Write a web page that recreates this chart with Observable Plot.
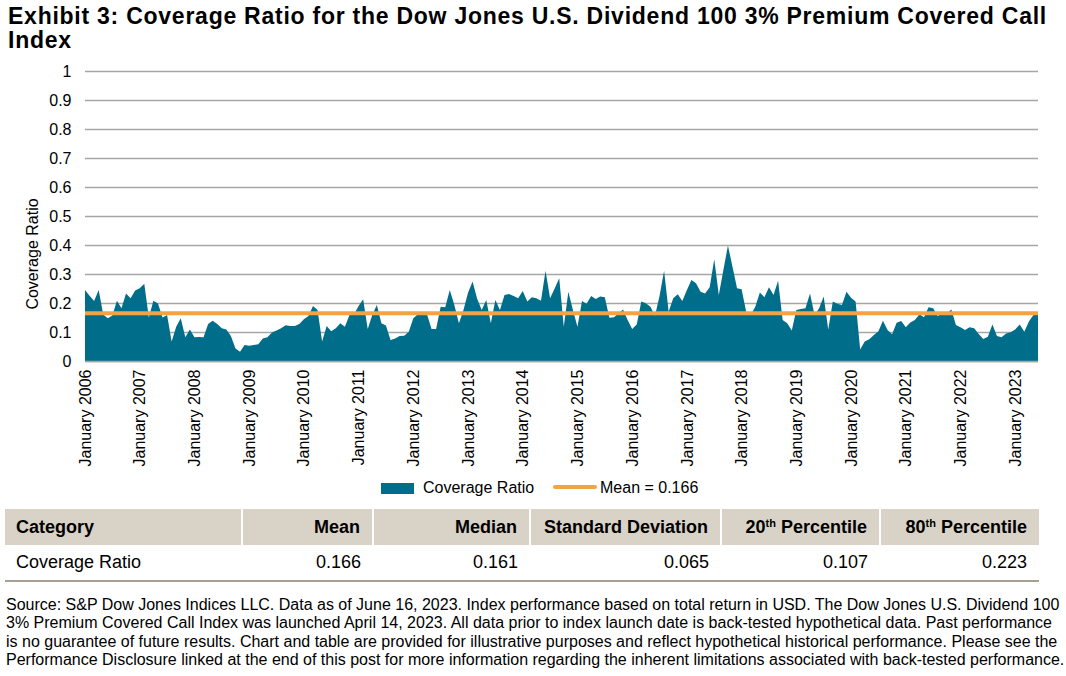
<!DOCTYPE html>
<html>
<head>
<meta charset="utf-8">
<script src="https://cdn.jsdelivr.net/npm/d3@7"></script>
<script src="https://cdn.jsdelivr.net/npm/@observablehq/plot@0.6"></script>
<style>
  body { margin: 0; background: #fff; font-family: "Liberation Sans", Arial, sans-serif; color: #000; }
  #wrap { position: relative; width: 1066px; height: 676px; overflow: hidden; }
  #title { position: absolute; left: 8px; top: 4px; font-weight: bold; font-size: 23px; letter-spacing: 0.75px; line-height: 24px; width: 1058px; white-space: nowrap; }
  #chart { position: absolute; left: 0; top: 60px; }
  #ylabel { position: absolute; left: 33px; top: 254px; transform: translate(-50%, -50%) rotate(-90deg); font-size: 16px; white-space: nowrap; }
  #legend { position: absolute; top: 478px; left: 0; width: 1066px; height: 20px; font-size: 16px; }
  #legend .item { position: absolute; top: 0; line-height: 20px; }
  table { position: absolute; left: 5px; top: 509px; width: 1034px; border-collapse: collapse; font-size: 18px; table-layout: fixed; }
  th, td { height: 36px; padding: 0 12px 0 0; text-align: right; white-space: nowrap; box-sizing: border-box; }
  th { background: #D9D3C7; font-weight: bold; border-left: 2px solid #fff; }
  th:first-child, td:first-child { text-align: left; padding-left: 11px; border-left: none; }
  tbody tr { border-bottom: 2px solid #A89F90; }
  sup { font-size: 11px; vertical-align: 6px; line-height: 0; }
  #note { position: absolute; left: 6px; top: 596px; font-size: 16px; line-height: 18.3px; white-space: nowrap; }
</style>
</head>
<body>
<div id="wrap">
  <div id="title">Exhibit 3: Coverage Ratio for the Dow Jones U.S. Dividend 100 3% Premium Covered Call<br>Index</div>
  <div id="chart"></div>
  <div id="ylabel">Coverage Ratio</div>
  <div id="legend"></div>
  <table>
    <colgroup><col style="width:237px"><col style="width:131px"><col style="width:157px"><col style="width:191px"><col style="width:159px"><col style="width:159px"></colgroup>
    <thead><tr id="hdr"></tr></thead>
    <tbody><tr id="row"></tr></tbody>
  </table>
  <div id="note">Source: S&amp;P Dow Jones Indices LLC. Data as of June 16, 2023. Index performance based on total return in USD. The Dow Jones U.S. Dividend 100<br>3% Premium Covered Call Index was launched April 14, 2023. All data prior to index launch date is back-tested hypothetical data. Past performance<br>is no guarantee of future results. Chart and table are provided for illustrative purposes and reflect hypothetical historical performance. Please see the<br>Performance Disclosure linked at the end of this post for more information regarding the inherent limitations associated with back-tested performance.</div>
</div>
<script>
// Monthly coverage ratio, January 2006 – June 2023
const startYear = 2006;
const coverage = [
  0.245, 0.225, 0.207, 0.245, 0.160, 0.147, 0.157, 0.208, 0.182, 0.233, 0.216, 0.243,
  0.251, 0.266, 0.150, 0.208, 0.198, 0.150, 0.159, 0.067, 0.118, 0.147, 0.082, 0.109,
  0.082, 0.083, 0.082, 0.128, 0.139, 0.128, 0.113, 0.109, 0.086, 0.043, 0.032, 0.055,
  0.053, 0.055, 0.058, 0.078, 0.082, 0.098, 0.105, 0.113, 0.123, 0.121, 0.121, 0.128,
  0.144, 0.155, 0.190, 0.176, 0.067, 0.121, 0.103, 0.113, 0.130, 0.118, 0.159, 0.161,
  0.190, 0.213, 0.110, 0.159, 0.193, 0.130, 0.122, 0.072, 0.078, 0.086, 0.087, 0.101,
  0.147, 0.161, 0.161, 0.161, 0.110, 0.110, 0.187, 0.185, 0.245, 0.193, 0.130, 0.176,
  0.235, 0.274, 0.215, 0.176, 0.210, 0.130, 0.210, 0.176, 0.228, 0.231, 0.224, 0.216,
  0.241, 0.205, 0.220, 0.216, 0.208, 0.311, 0.216, 0.250, 0.285, 0.118, 0.239, 0.176,
  0.118, 0.207, 0.197, 0.224, 0.214, 0.222, 0.220, 0.149, 0.151, 0.164, 0.178, 0.141,
  0.110, 0.126, 0.205, 0.199, 0.187, 0.156, 0.224, 0.311, 0.170, 0.216, 0.230, 0.207,
  0.245, 0.279, 0.268, 0.239, 0.233, 0.254, 0.351, 0.228, 0.314, 0.398, 0.325, 0.251,
  0.247, 0.170, 0.159, 0.187, 0.236, 0.220, 0.254, 0.228, 0.277, 0.141, 0.130, 0.105,
  0.176, 0.179, 0.182, 0.233, 0.159, 0.182, 0.222, 0.109, 0.205, 0.197, 0.193, 0.239,
  0.218, 0.205, 0.040, 0.067, 0.075, 0.090, 0.103, 0.139, 0.107, 0.092, 0.132, 0.138,
  0.116, 0.133, 0.141, 0.161, 0.151, 0.185, 0.182, 0.155, 0.164, 0.164, 0.178, 0.124,
  0.116, 0.107, 0.116, 0.113, 0.093, 0.076, 0.084, 0.126, 0.086, 0.082, 0.095, 0.099,
  0.109, 0.126, 0.101, 0.136, 0.159, 0.164
];
const meanValue = 0.166;
const yTicks = [0, 0.1, 0.2, 0.3, 0.4, 0.5, 0.6, 0.7, 0.8, 0.9, 1];
const seriesNames = ["Coverage Ratio", "Mean = 0.166"];
const tableHeaders = ["Category", "Mean", "Median", "Standard Deviation", "20<sup>th</sup> Percentile", "80<sup>th</sup> Percentile"];
const tableRow = ["Coverage Ratio", "0.166", "0.161", "0.065", "0.107", "0.223"];

const teal = "#006E8A";
const orange = "#F2A348";

const data = coverage.map((v, i) => ({ i, v }));
const xTicks = d3.range(0, coverage.length, 12);

const chart = Plot.plot({
  width: 1066,
  height: 420,
  marginLeft: 85,
  marginRight: 28,
  marginTop: 11,
  marginBottom: 119,
  style: { fontFamily: "Liberation Sans, Arial, sans-serif", fontSize: "16px", color: "#000" },
  x: { type: "linear", domain: [0, coverage.length - 1] },
  y: { domain: [0, 1] },
  marks: [
    Plot.gridY(yTicks, { stroke: "#A6A6A6", strokeOpacity: 1, strokeWidth: 1.3 }),
    Plot.areaY(data, { x: "i", y: "v", fill: teal, curve: "linear" }),
    Plot.ruleY([meanValue], { stroke: orange, strokeWidth: 4 }),
    Plot.ruleY([0], { stroke: "#A6A6A6", strokeWidth: 1.3 }),
    Plot.axisY(yTicks, { tickSize: 0, tickPadding: 14, label: null, tickFormat: d => String(+d.toFixed(1)), fontSize: 16 }),
    Plot.axisX(xTicks, { tickSize: 0, tickPadding: 8, label: null, tickRotate: -90,
      tickFormat: i => "January " + (startYear + i / 12), fontSize: 16 })
  ]
});
document.getElementById("chart").appendChild(chart);

// Legend
const legend = document.getElementById("legend");
legend.innerHTML =
  `<div class="item" style="left:381px"><span style="display:inline-block;width:33px;height:11px;background:${teal};vertical-align:-1px;margin-right:9px"></span>${seriesNames[0]}</div>` +
  `<div class="item" style="left:553px"><span style="display:inline-block;width:44px;height:4px;background:${orange};border-radius:2px;vertical-align:4px;margin-right:3px"></span>${seriesNames[1]}</div>`;

// Table
document.getElementById("hdr").innerHTML = tableHeaders.map(h => `<th>${h}</th>`).join("");
document.getElementById("row").innerHTML = tableRow.map(c => `<td>${c}</td>`).join("");
</script>
</body>
</html>
